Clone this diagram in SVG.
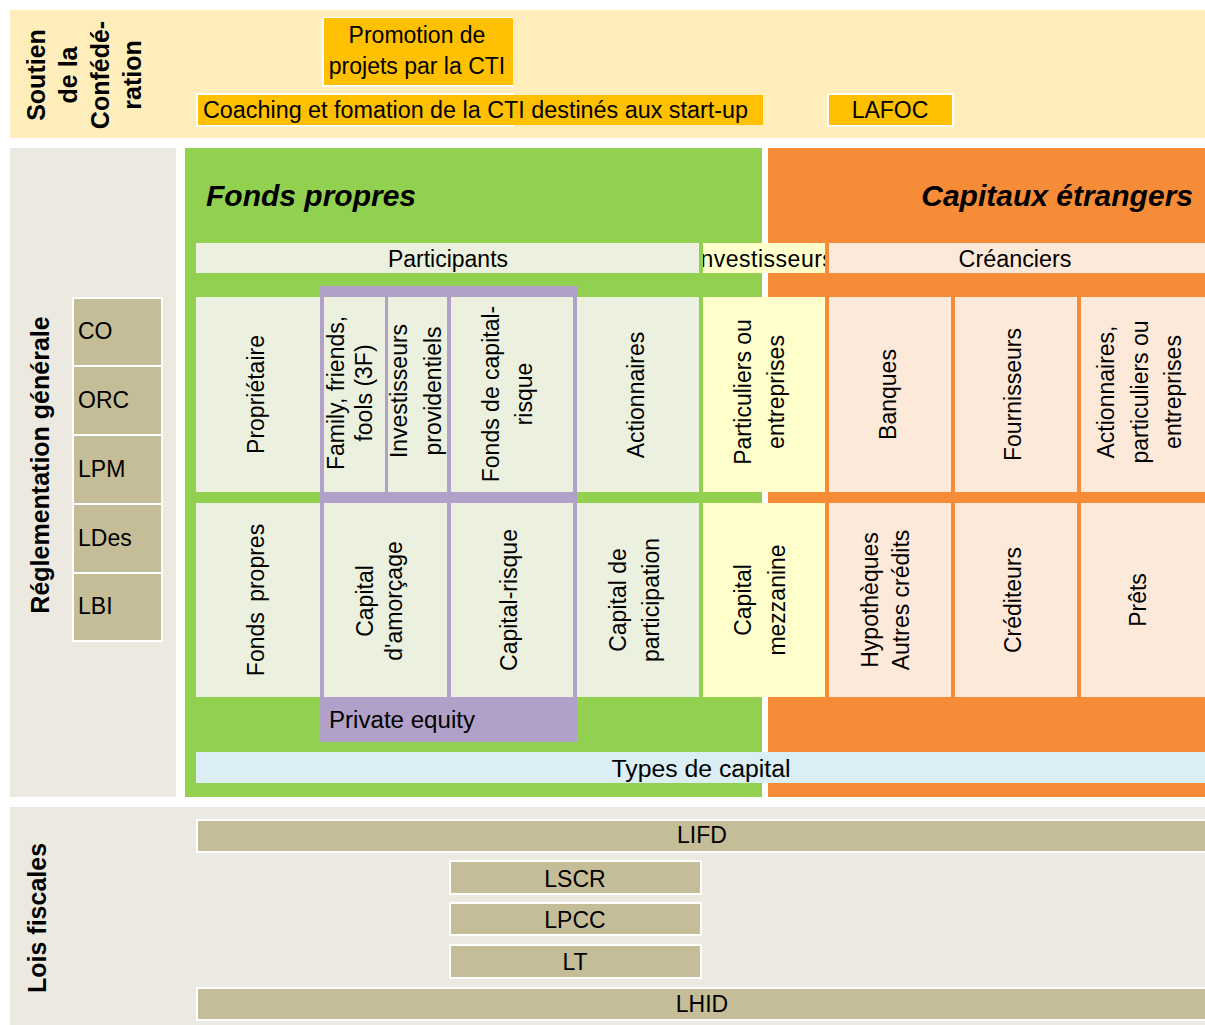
<svg xmlns="http://www.w3.org/2000/svg" width="1205" height="1025" viewBox="0 0 1205 1025">
<defs>
<style>
text { font-family: 'Liberation Sans', Arial, sans-serif; fill: #000; }
.t { font-size: 23px; text-anchor: middle; }
.l { font-size: 23px; }
.side { font-size: 25px; font-weight: bold; text-anchor: middle; }
.title { font-size: 30px; font-weight: bold; font-style: italic; }
.law { fill: #C4BD97; stroke: #FFFFFF; stroke-width: 2; }
.cti { fill: #FFC000; }
.pg { fill: #EBF1DE; }
.yl { fill: #FFFFCC; }
.pc { fill: #FDE9D9; }
.pu { fill: #B1A0C7; }
</style>
<clipPath id="clipInv"><rect x="703" y="243" width="122" height="30"/></clipPath>
</defs>
<rect x="0" y="0" width="1205" height="1025" fill="#FFFFFF"/>

<g id="band-soutien">
  <rect x="10" y="10" width="1195" height="128" fill="#FFEEBC"/>
  <text class="side" transform="translate(0,75) rotate(-90)"><tspan x="0" y="45">Soutien</tspan><tspan x="0" y="77">de la</tspan><tspan x="0" y="109">Confédé-</tspan><tspan x="0" y="141">ration</tspan></text>
</g>
<g id="promotion-cti">
  <rect x="322" y="17" width="191" height="70" fill="#FFFFFF"/>
  <rect x="324" y="18" width="189" height="67" class="cti"/>
  <text class="t" x="417" y="43">Promotion de</text>
  <text class="t" x="417" y="74">projets par la CTI</text>
</g>
<g id="coaching-cti">
  <rect x="196" y="93" width="318" height="34" fill="#FFFFFF"/>
  <rect x="198" y="95" width="565" height="30" class="cti"/>
  <text class="l" x="203" y="118" textLength="545" lengthAdjust="spacingAndGlyphs">Coaching et fomation de la CTI destinés aux start-up</text>
</g>
<g id="lafoc">
  <rect x="828" y="94" width="125" height="32" class="cti" stroke="#FFFFFF" stroke-width="2"/>
  <text class="t" x="890" y="118">LAFOC</text>
</g>

<g id="band-reglementation">
  <rect x="10" y="148" width="166" height="649" fill="#ECEAE0"/>
  <text class="side" transform="translate(0,465) rotate(-90)" x="0" y="49">Réglementation générale</text>
</g>
<g id="law-co"><rect x="73" y="298" width="89" height="68" class="law"/><text class="l" x="78" y="339">CO</text></g>
<g id="law-orc"><rect x="73" y="366" width="89" height="69" class="law"/><text class="l" x="78" y="408">ORC</text></g>
<g id="law-lpm"><rect x="73" y="435" width="89" height="69" class="law"/><text class="l" x="78" y="477">LPM</text></g>
<g id="law-ldes"><rect x="73" y="504" width="89" height="69" class="law"/><text class="l" x="78" y="546">LDes</text></g>
<g id="law-lbi"><rect x="73" y="573" width="89" height="68" class="law"/><text class="l" x="78" y="614">LBI</text></g>

<g id="fonds-propres-panel">
  <rect x="185" y="148" width="577" height="649" fill="#92D050"/>
  <text class="title" x="206" y="206">Fonds propres</text>
</g>
<g id="capitaux-etrangers-panel">
  <rect x="768" y="148" width="437" height="649" fill="#F68C37"/>
  <text class="title" x="1193" y="206" text-anchor="end">Capitaux étrangers</text>
</g>

<g id="participants">
  <rect x="196" y="243" width="503" height="30" class="pg"/>
  <text class="t" x="448" y="267" textLength="120" lengthAdjust="spacingAndGlyphs">Participants</text>
</g>
<g id="investisseurs">
  <rect x="703" y="243" width="122" height="30" class="yl"/>
  <text class="t" x="764" y="267" clip-path="url(#clipInv)" letter-spacing="0.5">Investisseurs</text>
</g>
<g id="creanciers">
  <rect x="829" y="243" width="376" height="30" class="pc"/>
  <text class="t" x="1015" y="267" textLength="113" lengthAdjust="spacingAndGlyphs">Créanciers</text>
</g>

<g id="private-equity">
  <rect x="320" y="286" width="257" height="456" class="pu"/>
  <text class="l" x="329" y="728" textLength="146" lengthAdjust="spacingAndGlyphs">Private equity</text>
</g>

<g id="cell-proprietaire">
  <rect x="196" y="297" width="124" height="195" class="pg"/>
  <text class="t" transform="translate(0,394.5) rotate(-90)" x="0" y="264">Propriétaire</text>
</g>
<g id="cell-3f">
  <rect x="324" y="297" width="61" height="195" class="pg"/>
  <text class="t" transform="translate(0,393) rotate(-90)"><tspan x="0" y="344">Family, friends,</tspan><tspan x="0" y="372">fools (3F)</tspan></text>
</g>
<g id="cell-investisseurs-providentiels">
  <rect x="388" y="297" width="59" height="195" class="pg"/>
  <text class="t" transform="translate(0,391) rotate(-90)"><tspan x="0" y="407">Investisseurs</tspan><tspan x="0" y="441">providentiels</tspan></text>
</g>
<g id="cell-fonds-capital-risque">
  <rect x="451" y="297" width="122" height="195" class="pg"/>
  <text class="t" transform="translate(0,394) rotate(-90)"><tspan x="0" y="499">Fonds de capital-</tspan><tspan x="0" y="532">risque</tspan></text>
</g>
<g id="cell-actionnaires">
  <rect x="577" y="297" width="122" height="195" class="pg"/>
  <text class="t" transform="translate(0,395) rotate(-90)" x="0" y="644">Actionnaires</text>
</g>
<g id="cell-particuliers">
  <rect x="703" y="297" width="122" height="195" class="yl"/>
  <text class="t" transform="translate(0,392) rotate(-90)"><tspan x="0" y="751">Particuliers ou</tspan><tspan x="0" y="784">entreprises</tspan></text>
</g>
<g id="cell-banques">
  <rect x="829" y="297" width="122" height="195" class="pc"/>
  <text class="t" transform="translate(0,394.5) rotate(-90)" x="0" y="896">Banques</text>
</g>
<g id="cell-fournisseurs">
  <rect x="955" y="297" width="122" height="195" class="pc"/>
  <text class="t" transform="translate(0,394.5) rotate(-90)" x="0" y="1021">Fournisseurs</text>
</g>
<g id="cell-actionnaires-particuliers">
  <rect x="1081" y="297" width="124" height="195" class="pc"/>
  <text class="t" transform="translate(0,392) rotate(-90)"><tspan x="0" y="1114">Actionnaires,</tspan><tspan x="0" y="1148">particuliers ou</tspan><tspan x="0" y="1181">entreprises</tspan></text>
</g>

<g id="cell-fonds-propres">
  <rect x="196" y="503" width="124" height="194" class="pg"/>
  <text class="t" transform="translate(0,600) rotate(-90)" x="0" y="264" word-spacing="4">Fonds propres</text>
</g>
<g id="cell-capital-amorcage">
  <rect x="324" y="503" width="123" height="194" class="pg"/>
  <text class="t" transform="translate(0,601) rotate(-90)"><tspan x="0" y="373">Capital</tspan><tspan x="0" y="402">d'amorçage</tspan></text>
</g>
<g id="cell-capital-risque">
  <rect x="451" y="503" width="122" height="194" class="pg"/>
  <text class="t" transform="translate(0,600) rotate(-90)" x="0" y="517">Capital-risque</text>
</g>
<g id="cell-capital-participation">
  <rect x="577" y="503" width="122" height="194" class="pg"/>
  <text class="t" transform="translate(0,600) rotate(-90)"><tspan x="0" y="626">Capital de</tspan><tspan x="0" y="659">participation</tspan></text>
</g>
<g id="cell-capital-mezzanine">
  <rect x="703" y="503" width="122" height="194" class="yl"/>
  <text class="t" transform="translate(0,600) rotate(-90)"><tspan x="0" y="751">Capital</tspan><tspan x="0" y="785">mezzanine</tspan></text>
</g>
<g id="cell-hypotheques">
  <rect x="829" y="503" width="122" height="194" class="pc"/>
  <text class="t" transform="translate(0,600) rotate(-90)"><tspan x="0" y="878">Hypothèques</tspan><tspan x="0" y="909">Autres crédits</tspan></text>
</g>
<g id="cell-crediteurs">
  <rect x="955" y="503" width="122" height="194" class="pc"/>
  <text class="t" transform="translate(0,600) rotate(-90)" x="0" y="1021">Créditeurs</text>
</g>
<g id="cell-prets">
  <rect x="1081" y="503" width="124" height="194" class="pc"/>
  <text class="t" transform="translate(0,600) rotate(-90)" x="0" y="1146">Prêts</text>
</g>

<g id="types-de-capital">
  <rect x="196" y="752" width="1009" height="31" fill="#DAEEF3"/>
  <text class="t" x="701" y="777" textLength="179" lengthAdjust="spacingAndGlyphs">Types de capital</text>
</g>

<g id="band-lois-fiscales">
  <rect x="10" y="807" width="1195" height="218" fill="#ECEAE0"/>
  <text class="side" transform="translate(0,918) rotate(-90)" x="0" y="46">Lois fiscales</text>
</g>
<g id="tax-lifd"><rect x="197" y="820" width="1010" height="32" class="law"/><text class="t" x="702" y="843">LIFD</text></g>
<g id="tax-lscr"><rect x="450" y="861" width="251" height="33" class="law"/><text class="t" x="575" y="887">LSCR</text></g>
<g id="tax-lpcc"><rect x="450" y="903" width="251" height="32" class="law"/><text class="t" x="575" y="928">LPCC</text></g>
<g id="tax-lt"><rect x="450" y="945" width="251" height="33" class="law"/><text class="t" x="575" y="970">LT</text></g>
<g id="tax-lhid"><rect x="197" y="988" width="1010" height="32" class="law"/><text class="t" x="702" y="1012">LHID</text></g>

<g id="connectors"></g>
</svg>
